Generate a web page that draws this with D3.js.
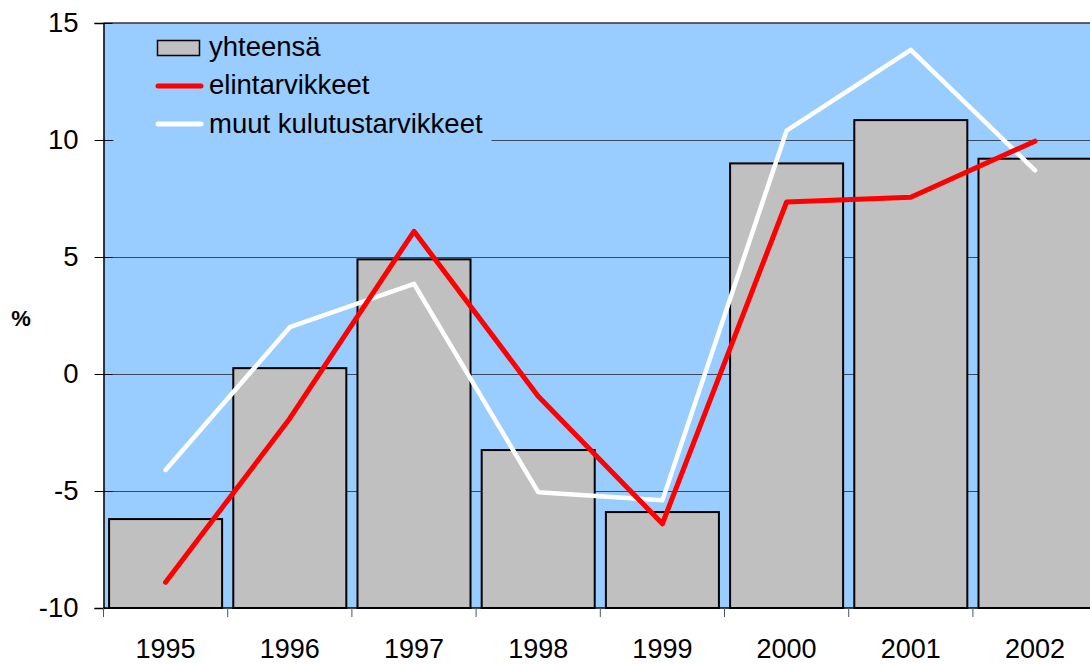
<!DOCTYPE html>
<html>
<head>
<meta charset="utf-8">
<script src="https://cdn.jsdelivr.net/npm/d3@7"></script>
<style>
  body { margin: 0; background: #fff; }
  svg { display: block; font-family: "Liberation Sans", Arial, sans-serif; }
</style>
</head>
<body>
<svg id="chart" width="1090" height="664"></svg>
<script>
// years on the x axis
const years = ['1995', '1996', '1997', '1998', '1999', '2000', '2001', '2002'];
// bar series: yhteensä
const total = [-6.2, 0.25, 4.9, -3.25, -5.9, 9.0, 10.85, 9.2];
// red line: elintarvikkeet
const food = [-8.9, -1.9, 6.1, -0.95, -6.4, 7.35, 7.55, 9.95];
// white line: muut kulutustarvikkeet
const other = [-4.1, 2.0, 3.85, -5.05, -5.4, 10.4, 13.85, 8.7];
const yTicks = [-10, -5, 0, 5, 10, 15];
const gridTicks = [-5, 0, 5, 10];
const legendLabels = ['yhteensä', 'elintarvikkeet', 'muut kulutustarvikkeet'];

const svg = d3.select('#chart');

const plotLeft = 103.5, plotTop = 23, plotBottom = 608, plotRight = 1090;
const bandW = 124.2;
const fontSize = 27.5;

const x = d3.scaleBand()
    .domain(years)
    .range([plotLeft, plotLeft + bandW * years.length])
    .paddingInner(0.09)
    .paddingOuter(0.045);

const y = d3.scaleLinear()
    .domain([-10, 15])
    .range([plotBottom, plotTop]);

const cx = (d) => x(d) + x.bandwidth() / 2;

/** plot background */
svg.append('rect')
    .attr('x', plotLeft)
    .attr('y', plotTop)
    .attr('width', plotRight - plotLeft)
    .attr('height', plotBottom - plotTop)
    .attr('fill', '#99ccff');

/** horizontal gridlines */
svg.append('g')
    .selectAll('line')
    .data(gridTicks)
    .enter()
    .append('line')
    .attr('x1', plotLeft)
    .attr('x2', plotRight)
    .attr('y1', (d) => Math.round(y(d)) + 0.5)
    .attr('y2', (d) => Math.round(y(d)) + 0.5)
    .attr('stroke', '#3a4a5a')
    .attr('stroke-width', 1);

/** top border */
svg.append('line')
    .attr('x1', plotLeft).attr('x2', plotRight)
    .attr('y1', plotTop).attr('y2', plotTop)
    .attr('stroke', '#333').attr('stroke-width', 1.5);

/** legend background hides gridline */
svg.append('rect')
    .attr('x', plotLeft + 10)
    .attr('y', plotTop + 2)
    .attr('width', 378)
    .attr('height', 125)
    .attr('fill', '#99ccff');

/** bars */
svg.append('g')
    .selectAll('rect')
    .data(years)
    .enter()
    .append('rect')
    .attr('x', (d) => x(d))
    .attr('width', x.bandwidth())
    .attr('y', (d, i) => y(total[i]))
    .attr('height', (d, i) => plotBottom - y(total[i]))
    .attr('fill', '#c0c0c0')
    .attr('stroke', '#000')
    .attr('stroke-width', 2);

/** lines */
const line = d3.line()
    .x((d, i) => cx(years[i]))
    .y((d) => y(d));

svg.append('path')
    .datum(other)
    .attr('d', line)
    .attr('fill', 'none')
    .attr('stroke', '#ffffff')
    .attr('stroke-width', 4.5)
    .attr('stroke-linecap', 'round')
    .attr('stroke-linejoin', 'round');

svg.append('path')
    .datum(food)
    .attr('d', line)
    .attr('fill', 'none')
    .attr('stroke', '#ff0000')
    .attr('stroke-width', 5)
    .attr('stroke-linecap', 'round')
    .attr('stroke-linejoin', 'round');

/** y axis */
const yAxis = svg.append('g')
    .attr('transform', `translate(${plotLeft},0)`)
    .call(d3.axisLeft(y).tickValues(yTicks).tickSize(9).tickPadding(16).tickFormat((d) => String(d)));
yAxis.select('.domain').attr('stroke', '#000').attr('stroke-width', 1.5);
yAxis.selectAll('.tick line').attr('stroke', '#000').attr('x1', 9).attr('x2', -9);
yAxis.selectAll('.tick text')
    .attr('font-size', fontSize)
    .attr('font-family', '"Liberation Sans", Arial, sans-serif')
    .attr('fill', '#000');

/** x axis */
const xAxis = svg.append('g')
    .attr('transform', `translate(0,${plotBottom})`)
    .call(d3.axisBottom(x).tickSize(0));
xAxis.select('.domain').remove();
xAxis.selectAll('.tick text')
    .attr('y', 50)
    .attr('dy', 0)
    .attr('font-size', 27)
    .attr('font-family', '"Liberation Sans", Arial, sans-serif')
    .attr('fill', '#000');

svg.append('line')
    .attr('x1', plotLeft).attr('x2', plotRight)
    .attr('y1', plotBottom).attr('y2', plotBottom)
    .attr('stroke', '#000').attr('stroke-width', 1.5);

/** x band boundary ticks */
svg.append('g')
    .selectAll('line')
    .data(years)
    .enter()
    .append('line')
    .attr('x1', (d) => x(d) - x.step() * x.paddingInner() / 2)
    .attr('x2', (d) => x(d) - x.step() * x.paddingInner() / 2)
    .attr('y1', plotBottom)
    .attr('y2', plotBottom + 9)
    .attr('stroke', '#555')
    .attr('stroke-width', 1);

/** y axis title */
svg.append('text')
    .attr('x', 21)
    .attr('y', 326)
    .attr('text-anchor', 'middle')
    .attr('font-size', 22)
    .attr('font-weight', 'bold')
    .text('%');

/** legend */
const legend = svg.append('g');
legend.append('rect')
    .attr('x', 157.5).attr('y', 40.5)
    .attr('width', 42).attr('height', 15)
    .attr('fill', '#c0c0c0').attr('stroke', '#000').attr('stroke-width', 1.5);
legend.append('line')
    .attr('x1', 158).attr('x2', 201).attr('y1', 86).attr('y2', 86)
    .attr('stroke', '#ff0000').attr('stroke-width', 5).attr('stroke-linecap', 'round');
legend.append('line')
    .attr('x1', 158).attr('x2', 201).attr('y1', 124).attr('y2', 124)
    .attr('stroke', '#ffffff').attr('stroke-width', 5).attr('stroke-linecap', 'round');

legend.selectAll('text.lbl')
    .data(legendLabels)
    .enter()
    .append('text')
    .attr('class', 'lbl')
    .attr('x', 209)
    .attr('y', (d, i) => 56 + i * 38.3)
    .attr('font-size', fontSize)
    .attr('fill', '#000')
    .text((d) => d);
</script>
</body>
</html>
